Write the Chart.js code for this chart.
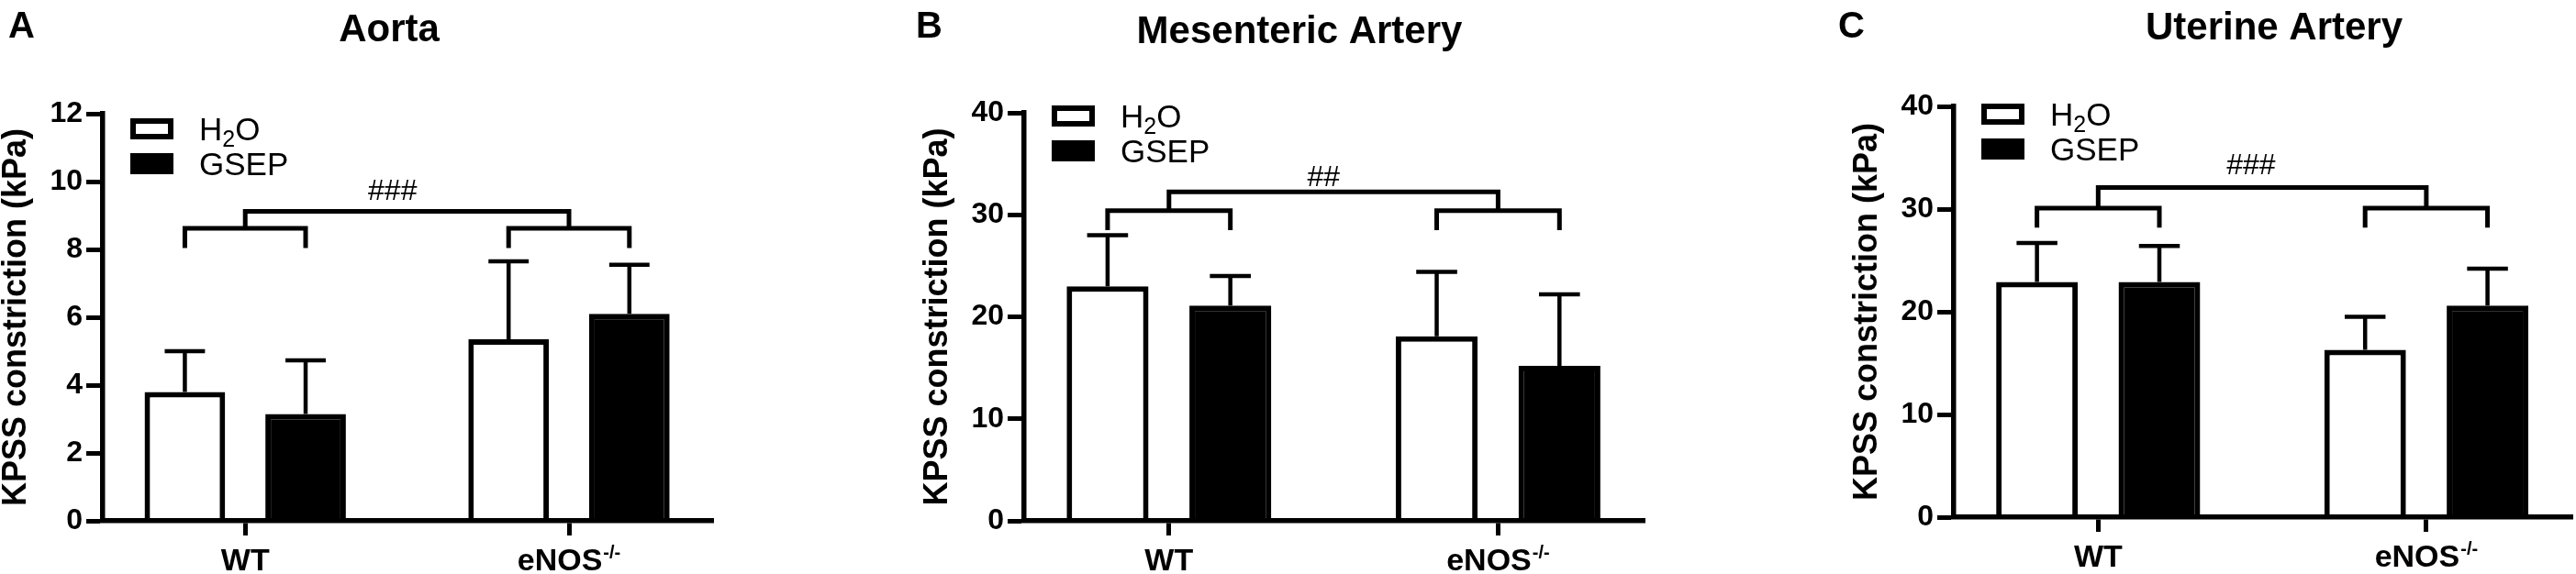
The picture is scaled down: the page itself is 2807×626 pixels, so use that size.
<!DOCTYPE html>
<html>
<head>
<meta charset="utf-8">
<script src="https://cdn.jsdelivr.net/npm/chart.js@4.4.1/dist/chart.umd.min.js"></script>
<style>
  html, body { margin: 0; padding: 0; background: #fff; }
  #wrap { position: relative; width: 2807px; height: 626px; overflow: hidden; background: #fff; }
  .panel { position: absolute; top: 0; height: 626px; }
</style>
</head>
<body>
<div id="wrap">
  <div class="panel" style="left:0px;width:782px"><canvas id="chartA"></canvas></div>
  <div class="panel" style="left:990px;width:807px"><canvas id="chartB"></canvas></div>
  <div class="panel" style="left:2000px;width:807px"><canvas id="chartC"></canvas></div>
</div>
<script>
// groups on the x axis, the second one carries a superscript
const categories = ["WT", "eNOS"];
const categorySup = ["", "-/-"];
const seriesNames = ["H\u2082O", "GSEP"];
const yTitle = "KPSS constriction (kPa)";

// A - aorta (mean and upward SD)
const aortaH2O = [3.8, 5.35];
const aortaH2OSd = [1.2, 2.3];
const aortaGSEP = [3.15, 6.1];
const aortaGSEPSd = [1.58, 1.45];
const aortaTicks = [0, 2, 4, 6, 8, 10, 12];

// B - mesenteric artery
const mesH2O = [23.0, 18.1];
const mesH2OSd = [5.0, 6.3];
const mesGSEP = [21.1, 15.2];
const mesGSEPSd = [2.9, 7.0];
const mesTicks = [0, 10, 20, 30, 40];

// C - uterine artery
const utH2O = [22.9, 16.3];
const utH2OSd = [3.8, 3.2];
const utGSEP = [22.9, 20.6];
const utGSEPSd = [3.5, 3.6];
const utTicks = [0, 10, 20, 30, 40];

// bracket levels (leg end, group bar, top bar) and the significance mark
const aortaBracket = [8.04, 8.62, 9.12];
const mesBracket = [28.5, 30.4, 32.25];
const utBracket = [28.2, 30.1, 32.1];
const sigLabels = ["###", "##", "###"];
const sigLevels = [9.7, 33.6, 34.2];

const FONT = '"Liberation Sans", Arial, Helvetica, sans-serif';

// draws text, turning subscript digits into small lowered digits
function drawRich(ctx, text, x, y, size, weight) {
  let cx = x;
  for (const ch of text) {
    const code = ch.codePointAt(0);
    if (code >= 0x2080 && code <= 0x2089) {
      const d = String(code - 0x2080);
      ctx.font = weight + " " + Math.round(size * 0.72) + "px " + FONT;
      ctx.fillText(d, cx, y + size * 0.2);
      cx += ctx.measureText(d).width;
    } else {
      ctx.font = weight + " " + size + "px " + FONT;
      ctx.fillText(ch, cx, y);
      cx += ctx.measureText(ch).width;
    }
  }
}

const annotate = {
  id: "annotate",
  afterDatasetsDraw(chart, args, opts) {
    const ctx = chart.ctx, xs = chart.scales.x, ys = chart.scales.y;
    ctx.save();
    ctx.strokeStyle = "#000";
    ctx.fillStyle = "#000";
    ctx.lineCap = "butt";
    ctx.lineJoin = "miter";

    // error bars, up only
    ctx.lineWidth = 4.5;
    chart.data.datasets.forEach((ds, di) => {
      chart.getDatasetMeta(di).data.forEach((bar, i) => {
        const top = ys.getPixelForValue(ds.data[i].y + ds.sd[i]);
        const half = bar.width / 4;
        ctx.beginPath();
        ctx.moveTo(bar.x, bar.y);
        ctx.lineTo(bar.x, top);
        ctx.moveTo(bar.x - half, top);
        ctx.lineTo(bar.x + half, top);
        ctx.stroke();
      });
    });

    // comparison brackets
    const legY = ys.getPixelForValue(opts.bracket[0]);
    const subY = ys.getPixelForValue(opts.bracket[1]);
    const topY = ys.getPixelForValue(opts.bracket[2]);
    const m0 = chart.getDatasetMeta(0).data, m1 = chart.getDatasetMeta(1).data;
    ctx.lineWidth = 5;
    const mids = [];
    for (let i = 0; i < categories.length; i++) {
      ctx.beginPath();
      ctx.moveTo(m0[i].x, legY);
      ctx.lineTo(m0[i].x, subY);
      ctx.lineTo(m1[i].x, subY);
      ctx.lineTo(m1[i].x, legY);
      ctx.stroke();
      mids.push(xs.getPixelForValue(i));
    }
    ctx.beginPath();
    ctx.moveTo(mids[0], subY);
    ctx.lineTo(mids[0], topY);
    ctx.lineTo(mids[1], topY);
    ctx.lineTo(mids[1], subY);
    ctx.stroke();

    ctx.font = "normal 32px " + FONT;
    ctx.textAlign = "center";
    ctx.textBaseline = "middle";
    ctx.fillText(opts.sig, xs.getPixelForValue(opts.sigAt), ys.getPixelForValue(opts.sigY));
    ctx.restore();
  },
  afterDraw(chart, args, opts) {
    const ctx = chart.ctx, xs = chart.scales.x, area = chart.chartArea;
    ctx.save();
    ctx.fillStyle = "#000";
    ctx.textBaseline = "alphabetic";

    // panel letter and title
    ctx.textAlign = "left";
    ctx.font = "bold 40px " + FONT;
    ctx.fillText(opts.letter, opts.letterX, 41);
    ctx.textAlign = "center";
    ctx.font = "bold 42px " + FONT;
    ctx.fillText(opts.title, opts.titleX, opts.titleY);

    // group labels under the ticks
    const base = area.bottom + 54;
    categories.forEach((c, i) => {
      const cx = xs.getPixelForValue(i);
      ctx.font = "bold 34px " + FONT;
      const w1 = ctx.measureText(c).width;
      ctx.font = "bold 20px " + FONT;
      const w2 = categorySup[i] ? ctx.measureText(categorySup[i]).width + 1 : 0;
      const x0 = cx - (w1 + w2) / 2;
      ctx.textAlign = "left";
      ctx.font = "bold 34px " + FONT;
      ctx.fillText(c, x0, base);
      if (w2) {
        ctx.font = "bold 20px " + FONT;
        ctx.fillText(categorySup[i], x0 + w1 + 1, base - 13);
      }
    });

    // legend inside the plot, top left
    const bx = area.left + 30;
    chart.data.datasets.forEach((ds, di) => {
      const by = opts.legendTop + di * 38;
      ctx.fillStyle = ds.borderColor;
      ctx.fillRect(bx, by, 47, 23);
      ctx.fillStyle = ds.backgroundColor;
      ctx.fillRect(bx + 6, by + 6, 35, 11);
      ctx.fillStyle = "#000";
      ctx.textAlign = "left";
      drawRich(ctx, ds.label, bx + 75, by + 24, 35, "normal");
    });
    ctx.restore();
  }
};

function makePanel(p) {
  const step = p.ticks[1] - p.ticks[0];
  return new Chart(document.getElementById(p.id), {
    type: "bar",
    data: {
      datasets: [
        {
          label: seriesNames[0],
          data: p.h2o.map((v, i) => ({ x: i, y: v })),
          sd: p.h2oSd,
          backgroundColor: "#ffffff",
          borderColor: "#000000",
          borderWidth: 6,
          barPercentage: 0.667,
          categoryPercentage: 0.746
        },
        {
          label: seriesNames[1],
          data: p.gsep.map((v, i) => ({ x: i, y: v })),
          sd: p.gsepSd,
          backgroundColor: "#000000",
          borderColor: "#000000",
          borderWidth: 6,
          barPercentage: 0.667,
          categoryPercentage: 0.746
        }
      ]
    },
    plugins: [annotate],
    options: {
      responsive: true,
      maintainAspectRatio: false,
      animation: false,
      events: [],
      layout: { padding: { top: p.top, right: p.padRight, bottom: 0, left: 0 } },
      plugins: {
        legend: { display: false },
        tooltip: { enabled: false },
        annotate: {
          letter: p.letter, letterX: p.letterX, title: p.title, titleX: p.titleX, titleY: p.titleY,
          legendTop: p.legendTop, bracket: p.bracket, sig: p.sig, sigAt: p.sigAt, sigY: p.sigY
        }
      },
      scales: {
        x: {
          type: "linear",
          min: -0.44,
          max: 1.445,
          offset: false,
          grid: { display: true, offset: false, drawOnChartArea: false, drawTicks: true, tickLength: 16, tickWidth: 5, tickColor: "#000" },
          border: { display: true, color: "#000", width: 5.5, z: 1 },
          ticks: { display: false, stepSize: 1, includeBounds: false },
          afterFit: s => { s.height = p.xHeight; }
        },
        y: {
          min: p.ticks[0],
          max: p.ticks[p.ticks.length - 1],
          ticks: { stepSize: step, color: "#000", padding: 4, font: { family: FONT, size: 32, weight: "bold" } },
          grid: { drawOnChartArea: false, drawTicks: true, tickLength: 18, tickWidth: 5, tickColor: "#000" },
          border: { display: true, color: "#000", width: 5.5, z: 1 },
          title: {
            display: true, text: yTitle, color: "#000",
            font: { family: FONT, size: 36, weight: "bold", lineHeight: 1 },
            padding: { top: p.titlePad, bottom: 0 }
          },
          afterFit: s => { s.width = p.yWidth; }
        }
      }
    }
  });
}

makePanel({
  id: "chartA", letter: "A", title: "Aorta", letterX: 9, titleX: 424, titleY: 45,
  h2o: aortaH2O, h2oSd: aortaH2OSd, gsep: aortaGSEP, gsepSd: aortaGSEPSd, ticks: aortaTicks,
  bracket: aortaBracket, sig: sigLabels[0], sigY: sigLevels[0], sigAt: 0.455,
  top: 124, padRight: 5, xHeight: 58, yWidth: 112, titlePad: 0, legendTop: 129
});
makePanel({
  id: "chartB", letter: "B", title: "Mesenteric Artery", letterX: 8, titleX: 426, titleY: 47,
  h2o: mesH2O, h2oSd: mesH2OSd, gsep: mesGSEP, gsepSd: mesGSEPSd, ticks: mesTicks,
  bracket: mesBracket, sig: sigLabels[1], sigY: sigLevels[1], sigAt: 0.47,
  top: 123, padRight: 5, xHeight: 58, yWidth: 126, titlePad: 14, legendTop: 115
});
makePanel({
  id: "chartC", letter: "C", title: "Uterine Artery", letterX: 3, titleX: 478, titleY: 43,
  h2o: utH2O, h2oSd: utH2OSd, gsep: utGSEP, gsepSd: utGSEPSd, ticks: utTicks,
  bracket: utBracket, sig: sigLabels[2], sigY: sigLevels[2], sigAt: 0.466,
  top: 116, padRight: 4, xHeight: 62, yWidth: 129, titlePad: 17, legendTop: 113
});
</script>
</body>
</html>
